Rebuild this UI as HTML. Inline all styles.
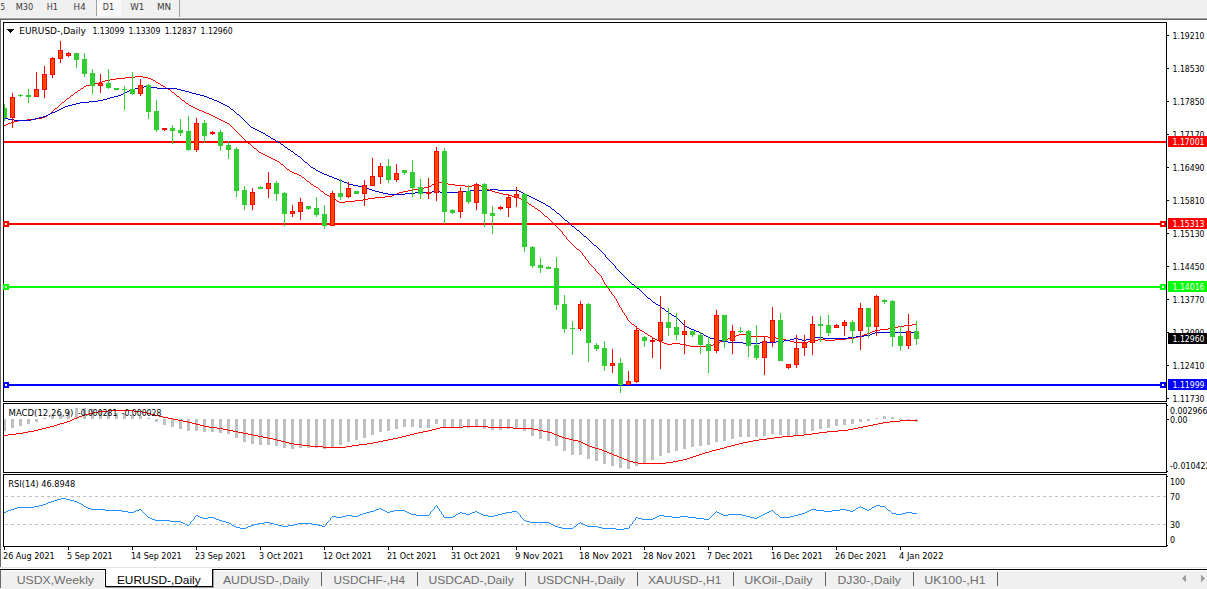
<!DOCTYPE html>
<html><head><meta charset="utf-8"><title>EURUSD-,Daily</title>
<style>
html,body{margin:0;padding:0;background:#fff;}
body{width:1207px;height:589px;position:relative;overflow:hidden;font-family:"Liberation Sans",Arial,sans-serif;}
#toolbar{position:absolute;left:0;top:0;width:1207px;height:18px;background:#f0f0f0;}
#toolbar .sep{position:absolute;top:0;width:1px;background:#a0a0a0;}
#toolbar .press{position:absolute;left:97px;top:0;width:24px;height:16px;background:#f8f8f8;}
#edge1{position:absolute;left:0;top:17px;width:1207px;height:1px;background:#f6f6f6;}
#edge2{position:absolute;left:0;top:18px;width:1207px;height:1px;background:#a0a0a0;}
#edge3{position:absolute;left:0;top:19px;width:1207px;height:1px;background:#696969;}
#ledge{position:absolute;left:0;top:19px;width:1px;height:548px;background:#696969;}
#tabs{position:absolute;left:0;top:567px;width:1207px;height:22px;}
#tabs .l1{position:absolute;left:0;top:0;width:1207px;height:1px;background:#e3e3e3;}
#tabs .l2{position:absolute;left:0;top:2px;width:1207px;height:1px;background:#000;}
#tabs .hl{position:absolute;left:0;top:3px;width:1207px;height:1px;background:#fff;}
#tabs .bg{position:absolute;left:0;top:4px;width:1207px;height:18px;background:#f0f0f0;}
#tabs .le{position:absolute;left:0;top:3px;width:1px;height:18px;background:#696969;}
#tabs .hlv{position:absolute;left:104px;top:3px;width:1px;height:19px;background:#fff;}
#tabs .act{position:absolute;left:105px;top:2px;width:106px;height:17px;background:#fff;border:1px solid #000;border-top:none;box-shadow:1px 1px 0 #a0a0a0;}
#tabs .acttop{position:absolute;left:106px;top:1px;width:106px;height:3px;background:#fff;}
#tabs .t1r{position:absolute;left:105px;top:2px;width:1px;height:18px;background:#000;}
#tabs i{position:absolute;top:5px;width:1px;height:14px;background:#606060;}
</style></head>
<body>
<div id="toolbar"><div class="press"></div><div class="sep" style="left:96px;height:16px"></div><div class="sep" style="left:179px;height:18px"></div></div>
<div id="edge1"></div><div id="edge2"></div><div id="edge3"></div><div id="ledge"></div>
<svg width="1207" height="589" viewBox="0 0 1207 589" style="position:absolute;left:0;top:0" font-family="DejaVu Sans Condensed, Liberation Sans, sans-serif">
<g shape-rendering="crispEdges">
<rect x="3" y="22" width="1164" height="1" fill="#000"/>
<rect x="3" y="401" width="1164" height="1" fill="#000"/>
<rect x="3" y="22" width="1" height="380" fill="#000"/>
<rect x="1166" y="22" width="1" height="380" fill="#000"/>
<rect x="3" y="403" width="1164" height="1" fill="#000"/>
<rect x="3" y="472" width="1164" height="1" fill="#000"/>
<rect x="3" y="403" width="1" height="70" fill="#000"/>
<rect x="1166" y="403" width="1" height="70" fill="#000"/>
<rect x="3" y="474" width="1164" height="1" fill="#000"/>
<rect x="3" y="546" width="1164" height="1" fill="#000"/>
<rect x="3" y="474" width="1" height="73" fill="#000"/>
<rect x="1166" y="474" width="1" height="73" fill="#000"/>
<rect x="4" y="141" width="1162" height="2" fill="#ff0000"/>
<rect x="4" y="223" width="1162" height="2" fill="#ff0000"/>
<rect x="4" y="286" width="1162" height="2" fill="#00ff00"/>
<rect x="4" y="384" width="1162" height="2" fill="#0000ff"/>
<path d="M135 76h8v1h-8zM125 77h10v1h-10zM143 77h5v1h-5zM116 78h9v1h-9zM148 78h3v1h-3zM110 79h6v1h-6zM151 79h2v1h-2zM105 80h5v1h-5zM153 80h2v1h-2zM102 81h3v1h-3zM155 81h1v1h-1zM99 82h3v1h-3zM156 82h2v1h-2zM95 83h4v1h-4zM158 83h2v1h-2zM90 84h5v1h-5zM160 84h1v1h-1zM86 85h4v1h-4zM161 85h2v1h-2zM84 86h2v1h-2zM163 86h2v1h-2zM83 87h1v1h-1zM165 87h1v1h-1zM81 88h2v1h-2zM166 88h2v1h-2zM80 89h1v1h-1zM168 89h2v1h-2zM78 90h2v1h-2zM170 90h1v1h-1zM77 91h1v1h-1zM171 91h1v1h-1zM75 92h2v1h-2zM172 92h2v1h-2zM74 93h1v1h-1zM174 93h1v1h-1zM73 94h1v1h-1zM175 94h1v1h-1zM71 95h2v1h-2zM176 95h1v1h-1zM70 96h1v1h-1zM177 96h2v1h-2zM69 97h1v1h-1zM179 97h1v1h-1zM67 98h2v1h-2zM180 98h1v1h-1zM66 99h1v1h-1zM181 99h1v1h-1zM65 100h1v1h-1zM182 100h2v1h-2zM64 101h1v1h-1zM184 101h1v1h-1zM62 102h2v1h-2zM185 102h1v1h-1zM61 103h1v1h-1zM186 103h2v1h-2zM60 104h1v1h-1zM188 104h1v1h-1zM59 105h1v1h-1zM189 105h2v1h-2zM58 106h1v1h-1zM191 106h2v1h-2zM57 107h1v1h-1zM193 107h2v1h-2zM55 108h2v1h-2zM195 108h2v1h-2zM54 109h1v1h-1zM197 109h2v1h-2zM53 110h1v1h-1zM199 110h3v1h-3zM52 111h1v1h-1zM202 111h2v1h-2zM51 112h1v1h-1zM204 112h2v1h-2zM50 113h1v1h-1zM206 113h3v1h-3zM48 114h2v1h-2zM209 114h2v1h-2zM47 115h1v1h-1zM211 115h2v1h-2zM45 116h2v1h-2zM213 116h2v1h-2zM42 117h3v1h-3zM215 117h2v1h-2zM36 118h6v1h-6zM217 118h2v1h-2zM27 119h9v1h-9zM219 119h2v1h-2zM18 120h9v1h-9zM221 120h2v1h-2zM14 121h4v1h-4zM223 121h2v1h-2zM11 122h3v1h-3zM225 122h2v1h-2zM8 123h3v1h-3zM227 123h2v1h-2zM6 124h2v1h-2zM229 124h1v1h-1zM4 125h2v1h-2zM230 125h1v1h-1zM231 126h1v1h-1zM232 127h1v1h-1zM233 128h1v1h-1zM234 129h1v1h-1zM235 130h1v1h-1zM236 131h1v1h-1zM237 132h1v1h-1zM238 133h1v1h-1zM239 134h1v1h-1zM240 135h1v1h-1zM241 136h1v1h-1zM242 137h1v1h-1zM243 138h1v1h-1zM244 139h1v1h-1zM245 140h1v1h-1zM246 141h1v1h-1zM247 142h1v1h-1zM248 143h2v1h-2zM250 144h1v1h-1zM251 145h1v1h-1zM252 146h1v1h-1zM253 147h1v1h-1zM254 148h2v1h-2zM256 149h1v1h-1zM257 150h1v1h-1zM258 151h1v1h-1zM259 152h2v1h-2zM261 153h2v1h-2zM263 154h2v1h-2zM265 155h2v1h-2zM267 156h2v1h-2zM269 157h2v1h-2zM271 158h2v1h-2zM273 159h2v1h-2zM275 160h2v1h-2zM277 161h2v1h-2zM279 162h1v1h-1zM280 163h1v1h-1zM281 164h2v1h-2zM283 165h1v1h-1zM284 166h1v1h-1zM285 167h1v1h-1zM286 168h1v1h-1zM287 169h2v1h-2zM289 170h1v1h-1zM290 171h2v1h-2zM292 172h2v1h-2zM294 173h3v1h-3zM297 174h2v1h-2zM299 175h2v1h-2zM301 176h1v1h-1zM302 177h2v1h-2zM304 178h1v1h-1zM305 179h1v1h-1zM306 180h1v1h-1zM307 181h2v1h-2zM309 182h1v1h-1zM436 182h8v1h-8zM310 183h1v1h-1zM434 183h2v1h-2zM444 183h4v1h-4zM311 184h2v1h-2zM432 184h2v1h-2zM448 184h7v1h-7zM476 184h3v1h-3zM313 185h1v1h-1zM431 185h1v1h-1zM455 185h10v1h-10zM472 185h4v1h-4zM479 185h2v1h-2zM314 186h2v1h-2zM429 186h2v1h-2zM465 186h7v1h-7zM481 186h2v1h-2zM316 187h2v1h-2zM424 187h5v1h-5zM483 187h2v1h-2zM318 188h1v1h-1zM418 188h6v1h-6zM485 188h2v1h-2zM319 189h1v1h-1zM413 189h5v1h-5zM487 189h2v1h-2zM320 190h1v1h-1zM408 190h5v1h-5zM489 190h3v1h-3zM321 191h2v1h-2zM403 191h5v1h-5zM492 191h3v1h-3zM323 192h1v1h-1zM399 192h4v1h-4zM495 192h4v1h-4zM324 193h1v1h-1zM397 193h2v1h-2zM499 193h4v1h-4zM325 194h2v1h-2zM394 194h3v1h-3zM503 194h5v1h-5zM327 195h2v1h-2zM392 195h2v1h-2zM508 195h4v1h-4zM329 196h2v1h-2zM385 196h7v1h-7zM512 196h3v1h-3zM331 197h2v1h-2zM375 197h10v1h-10zM515 197h4v1h-4zM333 198h1v1h-1zM368 198h7v1h-7zM519 198h2v1h-2zM334 199h2v1h-2zM363 199h5v1h-5zM521 199h2v1h-2zM336 200h1v1h-1zM355 200h8v1h-8zM523 200h1v1h-1zM337 201h2v1h-2zM345 201h10v1h-10zM524 201h2v1h-2zM339 202h6v1h-6zM526 202h2v1h-2zM528 203h1v1h-1zM529 204h2v1h-2zM531 205h1v1h-1zM532 206h2v1h-2zM534 207h1v1h-1zM535 208h2v1h-2zM537 209h1v1h-1zM538 210h2v1h-2zM540 211h1v1h-1zM541 212h1v1h-1zM542 213h1v1h-1zM543 214h1v1h-1zM544 215h1v1h-1zM545 216h2v1h-2zM547 217h1v1h-1zM548 218h1v1h-1zM549 219h1v1h-1zM550 220h1v1h-1zM551 221h1v1h-1zM552 222h1v1h-1zM553 223h1v1h-1zM554 224h1v1h-1zM555 225h1v1h-1zM556 226h1v1h-1zM557 227h1v1h-1zM558 228h1v1h-1zM559 229h1v1h-1zM560 230h1v1h-1zM561 231h1v1h-1zM562 232h1v1h-1zM562 233h1v1h-1zM563 234h1v1h-1zM564 235h1v1h-1zM565 236h1v1h-1zM566 237h1v1h-1zM566 238h1v1h-1zM567 239h1v1h-1zM568 240h1v1h-1zM569 241h1v1h-1zM570 242h1v1h-1zM571 243h1v1h-1zM572 244h1v1h-1zM573 245h1v1h-1zM574 246h1v1h-1zM575 247h1v1h-1zM576 248h1v1h-1zM577 249h2v1h-2zM579 250h1v1h-1zM580 251h1v1h-1zM581 252h1v1h-1zM582 253h1v1h-1zM582 254h1v1h-1zM583 255h1v1h-1zM584 256h1v1h-1zM585 257h1v1h-1zM585 258h1v1h-1zM586 259h1v1h-1zM587 260h1v1h-1zM588 261h1v1h-1zM588 262h1v1h-1zM589 263h1v1h-1zM590 264h1v1h-1zM591 265h1v1h-1zM592 266h1v1h-1zM593 267h1v1h-1zM594 268h1v1h-1zM595 269h1v1h-1zM595 270h1v1h-1zM596 271h1v1h-1zM597 272h1v1h-1zM598 273h1v1h-1zM599 274h1v1h-1zM600 275h1v1h-1zM601 276h1v1h-1zM601 277h1v1h-1zM602 278h1v1h-1zM602 279h1v1h-1zM603 280h1v1h-1zM603 281h1v1h-1zM604 282h1v1h-1zM604 283h1v1h-1zM605 284h1v1h-1zM606 285h1v1h-1zM606 286h1v1h-1zM607 287h1v1h-1zM608 288h1v1h-1zM609 289h1v1h-1zM609 290h1v1h-1zM610 291h1v1h-1zM611 292h1v1h-1zM611 293h1v1h-1zM612 294h1v1h-1zM613 295h1v1h-1zM614 296h1v1h-1zM614 297h1v1h-1zM615 298h1v1h-1zM616 299h1v1h-1zM616 300h1v1h-1zM617 301h1v1h-1zM617 302h1v1h-1zM618 303h1v1h-1zM618 304h1v1h-1zM619 305h1v1h-1zM619 306h1v1h-1zM620 307h1v1h-1zM621 308h1v1h-1zM621 309h1v1h-1zM622 310h1v1h-1zM622 311h1v1h-1zM623 312h1v1h-1zM624 313h1v1h-1zM624 314h1v1h-1zM625 315h1v1h-1zM626 316h1v1h-1zM626 317h1v1h-1zM627 318h1v1h-1zM627 319h1v1h-1zM628 320h1v1h-1zM629 321h1v1h-1zM630 322h1v1h-1zM631 323h1v1h-1zM632 324h2v1h-2zM912 324h5v1h-5zM634 325h1v1h-1zM904 325h8v1h-8zM635 326h1v1h-1zM898 326h6v1h-6zM636 327h1v1h-1zM894 327h4v1h-4zM637 328h2v1h-2zM888 328h6v1h-6zM639 329h1v1h-1zM880 329h8v1h-8zM640 330h2v1h-2zM875 330h5v1h-5zM642 331h2v1h-2zM872 331h3v1h-3zM644 332h1v1h-1zM870 332h2v1h-2zM645 333h2v1h-2zM867 333h3v1h-3zM647 334h1v1h-1zM739 334h8v1h-8zM864 334h3v1h-3zM648 335h2v1h-2zM736 335h3v1h-3zM747 335h4v1h-4zM862 335h2v1h-2zM650 336h2v1h-2zM734 336h2v1h-2zM751 336h17v1h-17zM858 336h4v1h-4zM652 337h1v1h-1zM731 337h3v1h-3zM768 337h8v1h-8zM854 337h4v1h-4zM653 338h2v1h-2zM728 338h3v1h-3zM776 338h6v1h-6zM846 338h8v1h-8zM655 339h2v1h-2zM726 339h2v1h-2zM782 339h4v1h-4zM818 339h7v1h-7zM835 339h11v1h-11zM657 340h2v1h-2zM723 340h3v1h-3zM786 340h4v1h-4zM814 340h4v1h-4zM825 340h10v1h-10zM659 341h3v1h-3zM720 341h3v1h-3zM790 341h4v1h-4zM808 341h6v1h-6zM662 342h2v1h-2zM718 342h2v1h-2zM794 342h14v1h-14zM664 343h3v1h-3zM672 343h8v1h-8zM715 343h3v1h-3zM667 344h5v1h-5zM680 344h6v1h-6zM713 344h2v1h-2zM686 345h4v1h-4zM711 345h2v1h-2zM690 346h21v1h-21z" fill="#ff0000"/>
<path d="M144 86h6v1h-6zM139 87h5v1h-5zM150 87h7v1h-7zM135 88h4v1h-4zM157 88h20v1h-20zM131 89h4v1h-4zM177 89h4v1h-4zM129 90h2v1h-2zM181 90h4v1h-4zM127 91h2v1h-2zM185 91h4v1h-4zM125 92h2v1h-2zM189 92h3v1h-3zM123 93h2v1h-2zM192 93h4v1h-4zM121 94h2v1h-2zM196 94h4v1h-4zM118 95h3v1h-3zM200 95h4v1h-4zM114 96h4v1h-4zM204 96h3v1h-3zM110 97h4v1h-4zM207 97h2v1h-2zM107 98h3v1h-3zM209 98h3v1h-3zM103 99h4v1h-4zM212 99h2v1h-2zM98 100h5v1h-5zM214 100h3v1h-3zM89 101h9v1h-9zM217 101h2v1h-2zM80 102h9v1h-9zM219 102h2v1h-2zM76 103h4v1h-4zM221 103h2v1h-2zM72 104h4v1h-4zM223 104h2v1h-2zM68 105h4v1h-4zM225 105h2v1h-2zM65 106h3v1h-3zM227 106h2v1h-2zM63 107h2v1h-2zM229 107h1v1h-1zM61 108h2v1h-2zM230 108h1v1h-1zM59 109h2v1h-2zM231 109h2v1h-2zM57 110h2v1h-2zM233 110h1v1h-1zM55 111h2v1h-2zM234 111h1v1h-1zM52 112h3v1h-3zM235 112h1v1h-1zM50 113h2v1h-2zM236 113h1v1h-1zM48 114h2v1h-2zM237 114h2v1h-2zM46 115h2v1h-2zM239 115h1v1h-1zM43 116h3v1h-3zM240 116h1v1h-1zM39 117h4v1h-4zM241 117h1v1h-1zM4 118h4v1h-4zM35 118h4v1h-4zM242 118h1v1h-1zM8 119h6v1h-6zM31 119h4v1h-4zM243 119h1v1h-1zM14 120h17v1h-17zM244 120h1v1h-1zM245 121h1v1h-1zM246 122h1v1h-1zM247 123h1v1h-1zM248 124h1v1h-1zM249 125h1v1h-1zM250 126h1v1h-1zM251 127h2v1h-2zM253 128h2v1h-2zM255 129h2v1h-2zM257 130h2v1h-2zM259 131h2v1h-2zM261 132h2v1h-2zM263 133h2v1h-2zM265 134h1v1h-1zM266 135h2v1h-2zM268 136h2v1h-2zM270 137h1v1h-1zM271 138h2v1h-2zM273 139h2v1h-2zM275 140h1v1h-1zM276 141h2v1h-2zM278 142h2v1h-2zM280 143h1v1h-1zM281 144h2v1h-2zM283 145h1v1h-1zM284 146h1v1h-1zM285 147h2v1h-2zM287 148h1v1h-1zM288 149h2v1h-2zM290 150h1v1h-1zM291 151h2v1h-2zM293 152h1v1h-1zM294 153h1v1h-1zM295 154h2v1h-2zM297 155h1v1h-1zM298 156h2v1h-2zM300 157h1v1h-1zM301 158h1v1h-1zM302 159h1v1h-1zM303 160h1v1h-1zM304 161h1v1h-1zM305 162h2v1h-2zM307 163h1v1h-1zM308 164h1v1h-1zM309 165h1v1h-1zM310 166h1v1h-1zM311 167h2v1h-2zM313 168h2v1h-2zM315 169h1v1h-1zM316 170h2v1h-2zM318 171h2v1h-2zM320 172h2v1h-2zM322 173h2v1h-2zM324 174h3v1h-3zM327 175h2v1h-2zM329 176h3v1h-3zM332 177h2v1h-2zM334 178h3v1h-3zM337 179h2v1h-2zM339 180h3v1h-3zM342 181h2v1h-2zM344 182h3v1h-3zM347 183h2v1h-2zM349 184h4v1h-4zM353 185h5v1h-5zM358 186h4v1h-4zM362 187h3v1h-3zM365 188h4v1h-4zM369 189h3v1h-3zM490 189h8v1h-8zM372 190h3v1h-3zM470 190h20v1h-20zM498 190h21v1h-21zM375 191h4v1h-4zM432 191h8v1h-8zM460 191h10v1h-10zM519 191h2v1h-2zM379 192h4v1h-4zM415 192h17v1h-17zM440 192h20v1h-20zM521 192h2v1h-2zM383 193h5v1h-5zM405 193h10v1h-10zM523 193h2v1h-2zM388 194h17v1h-17zM525 194h2v1h-2zM527 195h2v1h-2zM529 196h2v1h-2zM531 197h2v1h-2zM533 198h2v1h-2zM535 199h2v1h-2zM537 200h2v1h-2zM539 201h2v1h-2zM541 202h2v1h-2zM543 203h2v1h-2zM545 204h1v1h-1zM546 205h2v1h-2zM548 206h2v1h-2zM550 207h1v1h-1zM551 208h1v1h-1zM552 209h2v1h-2zM554 210h1v1h-1zM555 211h1v1h-1zM556 212h1v1h-1zM557 213h2v1h-2zM559 214h1v1h-1zM560 215h1v1h-1zM561 216h1v1h-1zM562 217h1v1h-1zM563 218h1v1h-1zM564 219h1v1h-1zM565 220h2v1h-2zM567 221h1v1h-1zM568 222h1v1h-1zM569 223h1v1h-1zM570 224h1v1h-1zM571 225h1v1h-1zM572 226h2v1h-2zM574 227h1v1h-1zM575 228h1v1h-1zM576 229h1v1h-1zM577 230h2v1h-2zM579 231h1v1h-1zM580 232h1v1h-1zM581 233h1v1h-1zM582 234h1v1h-1zM583 235h1v1h-1zM584 236h2v1h-2zM586 237h1v1h-1zM587 238h1v1h-1zM588 239h1v1h-1zM589 240h1v1h-1zM590 241h1v1h-1zM591 242h1v1h-1zM592 243h1v1h-1zM593 244h1v1h-1zM594 245h2v1h-2zM596 246h1v1h-1zM597 247h1v1h-1zM598 248h1v1h-1zM599 249h1v1h-1zM600 250h1v1h-1zM601 251h1v1h-1zM602 252h1v1h-1zM603 253h1v1h-1zM604 254h1v1h-1zM605 255h1v1h-1zM605 256h1v1h-1zM606 257h1v1h-1zM607 258h1v1h-1zM608 259h1v1h-1zM609 260h1v1h-1zM610 261h1v1h-1zM611 262h1v1h-1zM612 263h1v1h-1zM613 264h1v1h-1zM614 265h1v1h-1zM615 266h1v1h-1zM615 267h1v1h-1zM616 268h1v1h-1zM617 269h1v1h-1zM618 270h1v1h-1zM619 271h1v1h-1zM620 272h1v1h-1zM621 273h1v1h-1zM622 274h1v1h-1zM623 275h1v1h-1zM624 276h1v1h-1zM625 277h1v1h-1zM626 278h1v1h-1zM627 279h1v1h-1zM628 280h1v1h-1zM629 281h1v1h-1zM630 282h1v1h-1zM631 283h1v1h-1zM632 284h2v1h-2zM634 285h1v1h-1zM635 286h1v1h-1zM636 287h1v1h-1zM637 288h2v1h-2zM639 289h1v1h-1zM640 290h1v1h-1zM641 291h1v1h-1zM642 292h1v1h-1zM643 293h1v1h-1zM644 294h1v1h-1zM645 295h1v1h-1zM646 296h1v1h-1zM647 297h1v1h-1zM648 298h2v1h-2zM650 299h1v1h-1zM651 300h1v1h-1zM652 301h1v1h-1zM653 302h2v1h-2zM655 303h1v1h-1zM656 304h2v1h-2zM658 305h2v1h-2zM660 306h1v1h-1zM661 307h1v1h-1zM662 308h2v1h-2zM664 309h1v1h-1zM665 310h1v1h-1zM666 311h2v1h-2zM668 312h1v1h-1zM669 313h2v1h-2zM671 314h1v1h-1zM672 315h2v1h-2zM674 316h2v1h-2zM676 317h1v1h-1zM677 318h1v1h-1zM678 319h1v1h-1zM679 320h1v1h-1zM680 321h1v1h-1zM681 322h1v1h-1zM682 323h1v1h-1zM683 324h1v1h-1zM684 325h1v1h-1zM685 326h2v1h-2zM687 327h2v1h-2zM689 328h2v1h-2zM691 329h3v1h-3zM694 330h2v1h-2zM696 331h3v1h-3zM699 332h2v1h-2zM875 332h42v1h-42zM701 333h2v1h-2zM872 333h3v1h-3zM703 334h1v1h-1zM870 334h2v1h-2zM704 335h2v1h-2zM864 335h6v1h-6zM706 336h2v1h-2zM856 336h8v1h-8zM708 337h2v1h-2zM815 337h8v1h-8zM848 337h8v1h-8zM710 338h4v1h-4zM794 338h4v1h-4zM810 338h5v1h-5zM823 338h25v1h-25zM714 339h4v1h-4zM790 339h4v1h-4zM798 339h4v1h-4zM806 339h4v1h-4zM718 340h4v1h-4zM784 340h6v1h-6zM802 340h4v1h-4zM722 341h6v1h-6zM776 341h8v1h-8zM728 342h15v1h-15zM760 342h16v1h-16zM743 343h17v1h-17z" fill="#0000cd"/>
<rect x="4" y="104" width="1" height="17" fill="#32cd32"/>
<rect x="4" y="108" width="3" height="10" fill="#32cd32"/>
<rect x="12" y="93" width="1" height="35" fill="#ff0000"/>
<rect x="10" y="97" width="5" height="21" fill="#ff0000"/>
<rect x="11" y="98" width="3" height="19" fill="#ff4500"/>
<rect x="20" y="94" width="1" height="3" fill="#32cd32"/>
<rect x="18" y="95" width="5" height="1" fill="#32cd32"/>
<rect x="28" y="89" width="1" height="14" fill="#32cd32"/>
<rect x="26" y="95" width="5" height="2" fill="#32cd32"/>
<rect x="36" y="72" width="1" height="25" fill="#ff0000"/>
<rect x="34" y="89" width="5" height="8" fill="#ff0000"/>
<rect x="35" y="90" width="3" height="6" fill="#ff4500"/>
<rect x="44" y="66" width="1" height="32" fill="#ff0000"/>
<rect x="42" y="74" width="5" height="16" fill="#ff0000"/>
<rect x="43" y="75" width="3" height="14" fill="#ff4500"/>
<rect x="52" y="57" width="1" height="21" fill="#ff0000"/>
<rect x="50" y="58" width="5" height="17" fill="#ff0000"/>
<rect x="51" y="59" width="3" height="15" fill="#ff4500"/>
<rect x="60" y="41" width="1" height="22" fill="#ff0000"/>
<rect x="58" y="50" width="5" height="9" fill="#ff0000"/>
<rect x="59" y="51" width="3" height="7" fill="#ff4500"/>
<rect x="68" y="52" width="1" height="5" fill="#ff0000"/>
<rect x="66" y="53" width="5" height="3" fill="#ff0000"/>
<rect x="67" y="54" width="3" height="1" fill="#ff4500"/>
<rect x="76" y="53" width="1" height="15" fill="#32cd32"/>
<rect x="74" y="53" width="5" height="7" fill="#32cd32"/>
<rect x="84" y="53" width="1" height="24" fill="#32cd32"/>
<rect x="82" y="59" width="5" height="15" fill="#32cd32"/>
<rect x="92" y="69" width="1" height="25" fill="#32cd32"/>
<rect x="90" y="73" width="5" height="13" fill="#32cd32"/>
<rect x="100" y="74" width="1" height="19" fill="#ff0000"/>
<rect x="98" y="83" width="5" height="3" fill="#ff0000"/>
<rect x="99" y="84" width="3" height="1" fill="#ff4500"/>
<rect x="108" y="69" width="1" height="20" fill="#32cd32"/>
<rect x="106" y="83" width="5" height="5" fill="#32cd32"/>
<rect x="116" y="88" width="1" height="2" fill="#32cd32"/>
<rect x="114" y="88" width="5" height="2" fill="#32cd32"/>
<rect x="124" y="86" width="1" height="24" fill="#32cd32"/>
<rect x="122" y="89" width="5" height="1" fill="#32cd32"/>
<rect x="132" y="72" width="1" height="23" fill="#32cd32"/>
<rect x="130" y="89" width="5" height="5" fill="#32cd32"/>
<rect x="140" y="79" width="1" height="17" fill="#ff0000"/>
<rect x="138" y="85" width="5" height="9" fill="#ff0000"/>
<rect x="139" y="86" width="3" height="7" fill="#ff4500"/>
<rect x="148" y="84" width="1" height="35" fill="#32cd32"/>
<rect x="146" y="85" width="5" height="27" fill="#32cd32"/>
<rect x="156" y="100" width="1" height="32" fill="#32cd32"/>
<rect x="154" y="111" width="5" height="19" fill="#32cd32"/>
<rect x="164" y="128" width="1" height="3" fill="#ff0000"/>
<rect x="162" y="128" width="5" height="2" fill="#ff0000"/>
<rect x="172" y="125" width="1" height="19" fill="#32cd32"/>
<rect x="170" y="128" width="5" height="3" fill="#32cd32"/>
<rect x="180" y="119" width="1" height="17" fill="#32cd32"/>
<rect x="178" y="130" width="5" height="3" fill="#32cd32"/>
<rect x="188" y="116" width="1" height="35" fill="#32cd32"/>
<rect x="186" y="131" width="5" height="19" fill="#32cd32"/>
<rect x="196" y="118" width="1" height="34" fill="#ff0000"/>
<rect x="194" y="123" width="5" height="27" fill="#ff0000"/>
<rect x="195" y="124" width="3" height="25" fill="#ff4500"/>
<rect x="204" y="120" width="1" height="23" fill="#32cd32"/>
<rect x="202" y="123" width="5" height="13" fill="#32cd32"/>
<rect x="212" y="131" width="1" height="4" fill="#ff0000"/>
<rect x="210" y="132" width="5" height="2" fill="#ff0000"/>
<rect x="220" y="130" width="1" height="21" fill="#32cd32"/>
<rect x="218" y="132" width="5" height="14" fill="#32cd32"/>
<rect x="228" y="141" width="1" height="18" fill="#32cd32"/>
<rect x="226" y="145" width="5" height="5" fill="#32cd32"/>
<rect x="236" y="147" width="1" height="50" fill="#32cd32"/>
<rect x="234" y="149" width="5" height="42" fill="#32cd32"/>
<rect x="244" y="186" width="1" height="24" fill="#32cd32"/>
<rect x="242" y="190" width="5" height="15" fill="#32cd32"/>
<rect x="252" y="188" width="1" height="22" fill="#ff0000"/>
<rect x="250" y="192" width="5" height="13" fill="#ff0000"/>
<rect x="251" y="193" width="3" height="11" fill="#ff4500"/>
<rect x="260" y="186" width="1" height="3" fill="#32cd32"/>
<rect x="258" y="187" width="5" height="2" fill="#32cd32"/>
<rect x="268" y="172" width="1" height="26" fill="#ff0000"/>
<rect x="266" y="183" width="5" height="6" fill="#ff0000"/>
<rect x="267" y="184" width="3" height="4" fill="#ff4500"/>
<rect x="276" y="181" width="1" height="20" fill="#32cd32"/>
<rect x="274" y="183" width="5" height="11" fill="#32cd32"/>
<rect x="284" y="192" width="1" height="34" fill="#32cd32"/>
<rect x="282" y="193" width="5" height="21" fill="#32cd32"/>
<rect x="292" y="205" width="1" height="12" fill="#ff0000"/>
<rect x="290" y="211" width="5" height="3" fill="#ff0000"/>
<rect x="291" y="212" width="3" height="1" fill="#ff4500"/>
<rect x="300" y="198" width="1" height="22" fill="#ff0000"/>
<rect x="298" y="202" width="5" height="10" fill="#ff0000"/>
<rect x="299" y="203" width="3" height="8" fill="#ff4500"/>
<rect x="308" y="206" width="1" height="4" fill="#32cd32"/>
<rect x="306" y="206" width="5" height="3" fill="#32cd32"/>
<rect x="316" y="197" width="1" height="20" fill="#32cd32"/>
<rect x="314" y="208" width="5" height="7" fill="#32cd32"/>
<rect x="324" y="205" width="1" height="24" fill="#32cd32"/>
<rect x="322" y="214" width="5" height="12" fill="#32cd32"/>
<rect x="332" y="191" width="1" height="35" fill="#ff0000"/>
<rect x="330" y="193" width="5" height="33" fill="#ff0000"/>
<rect x="331" y="194" width="3" height="31" fill="#ff4500"/>
<rect x="340" y="179" width="1" height="21" fill="#32cd32"/>
<rect x="338" y="193" width="5" height="4" fill="#32cd32"/>
<rect x="348" y="182" width="1" height="16" fill="#ff0000"/>
<rect x="346" y="188" width="5" height="9" fill="#ff0000"/>
<rect x="347" y="189" width="3" height="7" fill="#ff4500"/>
<rect x="356" y="191" width="1" height="3" fill="#32cd32"/>
<rect x="354" y="191" width="5" height="3" fill="#32cd32"/>
<rect x="364" y="180" width="1" height="26" fill="#ff0000"/>
<rect x="362" y="185" width="5" height="9" fill="#ff0000"/>
<rect x="363" y="186" width="3" height="7" fill="#ff4500"/>
<rect x="372" y="158" width="1" height="28" fill="#ff0000"/>
<rect x="370" y="176" width="5" height="10" fill="#ff0000"/>
<rect x="371" y="177" width="3" height="8" fill="#ff4500"/>
<rect x="380" y="163" width="1" height="21" fill="#ff0000"/>
<rect x="378" y="166" width="5" height="11" fill="#ff0000"/>
<rect x="379" y="167" width="3" height="9" fill="#ff4500"/>
<rect x="388" y="159" width="1" height="24" fill="#32cd32"/>
<rect x="386" y="166" width="5" height="14" fill="#32cd32"/>
<rect x="396" y="164" width="1" height="18" fill="#ff0000"/>
<rect x="394" y="173" width="5" height="7" fill="#ff0000"/>
<rect x="395" y="174" width="3" height="5" fill="#ff4500"/>
<rect x="404" y="170" width="1" height="5" fill="#32cd32"/>
<rect x="402" y="170" width="5" height="3" fill="#32cd32"/>
<rect x="412" y="160" width="1" height="37" fill="#32cd32"/>
<rect x="410" y="172" width="5" height="16" fill="#32cd32"/>
<rect x="420" y="179" width="1" height="20" fill="#32cd32"/>
<rect x="418" y="187" width="5" height="7" fill="#32cd32"/>
<rect x="428" y="178" width="1" height="21" fill="#ff0000"/>
<rect x="426" y="192" width="5" height="2" fill="#ff0000"/>
<rect x="436" y="147" width="1" height="54" fill="#ff0000"/>
<rect x="434" y="151" width="5" height="42" fill="#ff0000"/>
<rect x="435" y="152" width="3" height="40" fill="#ff4500"/>
<rect x="444" y="148" width="1" height="76" fill="#32cd32"/>
<rect x="442" y="151" width="5" height="61" fill="#32cd32"/>
<rect x="452" y="209" width="1" height="5" fill="#32cd32"/>
<rect x="450" y="210" width="5" height="3" fill="#32cd32"/>
<rect x="460" y="187" width="1" height="31" fill="#ff0000"/>
<rect x="458" y="191" width="5" height="21" fill="#ff0000"/>
<rect x="459" y="192" width="3" height="19" fill="#ff4500"/>
<rect x="468" y="185" width="1" height="19" fill="#32cd32"/>
<rect x="466" y="191" width="5" height="11" fill="#32cd32"/>
<rect x="476" y="183" width="1" height="27" fill="#ff0000"/>
<rect x="474" y="184" width="5" height="19" fill="#ff0000"/>
<rect x="475" y="185" width="3" height="17" fill="#ff4500"/>
<rect x="484" y="183" width="1" height="44" fill="#32cd32"/>
<rect x="482" y="184" width="5" height="30" fill="#32cd32"/>
<rect x="492" y="206" width="1" height="28" fill="#32cd32"/>
<rect x="490" y="213" width="5" height="3" fill="#32cd32"/>
<rect x="500" y="206" width="1" height="4" fill="#ff0000"/>
<rect x="498" y="207" width="5" height="2" fill="#ff0000"/>
<rect x="508" y="194" width="1" height="23" fill="#ff0000"/>
<rect x="506" y="197" width="5" height="11" fill="#ff0000"/>
<rect x="507" y="198" width="3" height="9" fill="#ff4500"/>
<rect x="516" y="187" width="1" height="20" fill="#ff0000"/>
<rect x="514" y="194" width="5" height="4" fill="#ff0000"/>
<rect x="515" y="195" width="3" height="2" fill="#ff4500"/>
<rect x="524" y="193" width="1" height="59" fill="#32cd32"/>
<rect x="522" y="194" width="5" height="53" fill="#32cd32"/>
<rect x="532" y="246" width="1" height="22" fill="#32cd32"/>
<rect x="530" y="247" width="5" height="19" fill="#32cd32"/>
<rect x="540" y="258" width="1" height="15" fill="#32cd32"/>
<rect x="538" y="265" width="5" height="3" fill="#32cd32"/>
<rect x="548" y="266" width="1" height="3" fill="#32cd32"/>
<rect x="546" y="267" width="5" height="2" fill="#32cd32"/>
<rect x="556" y="257" width="1" height="53" fill="#32cd32"/>
<rect x="554" y="268" width="5" height="37" fill="#32cd32"/>
<rect x="564" y="295" width="1" height="38" fill="#32cd32"/>
<rect x="562" y="304" width="5" height="25" fill="#32cd32"/>
<rect x="572" y="321" width="1" height="34" fill="#32cd32"/>
<rect x="570" y="328" width="5" height="1" fill="#32cd32"/>
<rect x="580" y="301" width="1" height="30" fill="#ff0000"/>
<rect x="578" y="304" width="5" height="25" fill="#ff0000"/>
<rect x="579" y="305" width="3" height="23" fill="#ff4500"/>
<rect x="588" y="303" width="1" height="59" fill="#32cd32"/>
<rect x="586" y="304" width="5" height="39" fill="#32cd32"/>
<rect x="596" y="343" width="1" height="8" fill="#32cd32"/>
<rect x="594" y="345" width="5" height="4" fill="#32cd32"/>
<rect x="604" y="341" width="1" height="30" fill="#32cd32"/>
<rect x="602" y="348" width="5" height="18" fill="#32cd32"/>
<rect x="612" y="349" width="1" height="24" fill="#ff0000"/>
<rect x="610" y="363" width="5" height="3" fill="#ff0000"/>
<rect x="611" y="364" width="3" height="1" fill="#ff4500"/>
<rect x="620" y="358" width="1" height="35" fill="#32cd32"/>
<rect x="618" y="363" width="5" height="22" fill="#32cd32"/>
<rect x="628" y="371" width="1" height="14" fill="#ff0000"/>
<rect x="626" y="381" width="5" height="4" fill="#ff0000"/>
<rect x="627" y="382" width="3" height="2" fill="#ff4500"/>
<rect x="636" y="326" width="1" height="57" fill="#ff0000"/>
<rect x="634" y="330" width="5" height="52" fill="#ff0000"/>
<rect x="635" y="331" width="3" height="50" fill="#ff4500"/>
<rect x="644" y="336" width="1" height="11" fill="#32cd32"/>
<rect x="642" y="337" width="5" height="4" fill="#32cd32"/>
<rect x="652" y="337" width="1" height="21" fill="#ff0000"/>
<rect x="650" y="340" width="5" height="2" fill="#ff0000"/>
<rect x="660" y="296" width="1" height="73" fill="#ff0000"/>
<rect x="658" y="322" width="5" height="19" fill="#ff0000"/>
<rect x="659" y="323" width="3" height="17" fill="#ff4500"/>
<rect x="668" y="308" width="1" height="28" fill="#32cd32"/>
<rect x="666" y="322" width="5" height="6" fill="#32cd32"/>
<rect x="676" y="313" width="1" height="27" fill="#32cd32"/>
<rect x="674" y="327" width="5" height="8" fill="#32cd32"/>
<rect x="684" y="320" width="1" height="34" fill="#ff0000"/>
<rect x="682" y="331" width="5" height="4" fill="#ff0000"/>
<rect x="683" y="332" width="3" height="2" fill="#ff4500"/>
<rect x="692" y="331" width="1" height="6" fill="#32cd32"/>
<rect x="690" y="331" width="5" height="4" fill="#32cd32"/>
<rect x="700" y="332" width="1" height="22" fill="#32cd32"/>
<rect x="698" y="335" width="5" height="10" fill="#32cd32"/>
<rect x="708" y="337" width="1" height="36" fill="#32cd32"/>
<rect x="706" y="344" width="5" height="7" fill="#32cd32"/>
<rect x="716" y="310" width="1" height="43" fill="#ff0000"/>
<rect x="714" y="315" width="5" height="36" fill="#ff0000"/>
<rect x="715" y="316" width="3" height="34" fill="#ff4500"/>
<rect x="724" y="315" width="1" height="33" fill="#32cd32"/>
<rect x="722" y="315" width="5" height="26" fill="#32cd32"/>
<rect x="732" y="325" width="1" height="29" fill="#ff0000"/>
<rect x="730" y="331" width="5" height="10" fill="#ff0000"/>
<rect x="731" y="332" width="3" height="8" fill="#ff4500"/>
<rect x="740" y="327" width="1" height="6" fill="#32cd32"/>
<rect x="738" y="331" width="5" height="1" fill="#32cd32"/>
<rect x="748" y="330" width="1" height="27" fill="#32cd32"/>
<rect x="746" y="331" width="5" height="15" fill="#32cd32"/>
<rect x="756" y="325" width="1" height="35" fill="#32cd32"/>
<rect x="754" y="345" width="5" height="13" fill="#32cd32"/>
<rect x="764" y="336" width="1" height="39" fill="#ff0000"/>
<rect x="762" y="341" width="5" height="17" fill="#ff0000"/>
<rect x="763" y="342" width="3" height="15" fill="#ff4500"/>
<rect x="772" y="307" width="1" height="40" fill="#ff0000"/>
<rect x="770" y="320" width="5" height="22" fill="#ff0000"/>
<rect x="771" y="321" width="3" height="20" fill="#ff4500"/>
<rect x="780" y="313" width="1" height="48" fill="#32cd32"/>
<rect x="778" y="320" width="5" height="41" fill="#32cd32"/>
<rect x="788" y="364" width="1" height="5" fill="#ff0000"/>
<rect x="786" y="364" width="5" height="4" fill="#ff0000"/>
<rect x="787" y="365" width="3" height="2" fill="#ff4500"/>
<rect x="796" y="335" width="1" height="33" fill="#ff0000"/>
<rect x="794" y="348" width="5" height="17" fill="#ff0000"/>
<rect x="795" y="349" width="3" height="15" fill="#ff4500"/>
<rect x="804" y="335" width="1" height="21" fill="#ff0000"/>
<rect x="802" y="343" width="5" height="5" fill="#ff0000"/>
<rect x="803" y="344" width="3" height="3" fill="#ff4500"/>
<rect x="812" y="316" width="1" height="39" fill="#ff0000"/>
<rect x="810" y="324" width="5" height="19" fill="#ff0000"/>
<rect x="811" y="325" width="3" height="17" fill="#ff4500"/>
<rect x="820" y="316" width="1" height="26" fill="#32cd32"/>
<rect x="818" y="324" width="5" height="2" fill="#32cd32"/>
<rect x="828" y="315" width="1" height="21" fill="#32cd32"/>
<rect x="826" y="325" width="5" height="8" fill="#32cd32"/>
<rect x="836" y="324" width="1" height="4" fill="#ff0000"/>
<rect x="834" y="325" width="5" height="3" fill="#ff0000"/>
<rect x="835" y="326" width="3" height="1" fill="#ff4500"/>
<rect x="844" y="320" width="1" height="16" fill="#ff0000"/>
<rect x="842" y="322" width="5" height="4" fill="#ff0000"/>
<rect x="843" y="323" width="3" height="2" fill="#ff4500"/>
<rect x="852" y="320" width="1" height="23" fill="#32cd32"/>
<rect x="850" y="322" width="5" height="9" fill="#32cd32"/>
<rect x="860" y="303" width="1" height="47" fill="#ff0000"/>
<rect x="858" y="308" width="5" height="23" fill="#ff0000"/>
<rect x="859" y="309" width="3" height="21" fill="#ff4500"/>
<rect x="868" y="308" width="1" height="30" fill="#32cd32"/>
<rect x="866" y="308" width="5" height="19" fill="#32cd32"/>
<rect x="876" y="295" width="1" height="41" fill="#ff0000"/>
<rect x="874" y="296" width="5" height="31" fill="#ff0000"/>
<rect x="875" y="297" width="3" height="29" fill="#ff4500"/>
<rect x="884" y="299" width="1" height="5" fill="#32cd32"/>
<rect x="882" y="300" width="5" height="2" fill="#32cd32"/>
<rect x="892" y="300" width="1" height="47" fill="#32cd32"/>
<rect x="890" y="301" width="5" height="36" fill="#32cd32"/>
<rect x="900" y="326" width="1" height="25" fill="#32cd32"/>
<rect x="898" y="336" width="5" height="10" fill="#32cd32"/>
<rect x="908" y="314" width="1" height="35" fill="#ff0000"/>
<rect x="906" y="331" width="5" height="15" fill="#ff0000"/>
<rect x="907" y="332" width="3" height="13" fill="#ff4500"/>
<rect x="916" y="321" width="1" height="24" fill="#32cd32"/>
<rect x="914" y="331" width="5" height="8" fill="#32cd32"/>
<rect x="3" y="22" width="1" height="380" fill="#000"/>
<rect x="1166" y="22" width="1" height="380" fill="#000"/>
<rect x="1160" y="221" width="6" height="6" fill="#ff0000"/>
<rect x="1162" y="223" width="2" height="2" fill="#fff"/>
<rect x="3" y="221" width="6" height="6" fill="#ff0000"/>
<rect x="5" y="223" width="2" height="2" fill="#fff"/>
<rect x="1160" y="284" width="6" height="6" fill="#00ff00"/>
<rect x="1162" y="286" width="2" height="2" fill="#fff"/>
<rect x="3" y="284" width="6" height="6" fill="#00ff00"/>
<rect x="5" y="286" width="2" height="2" fill="#fff"/>
<rect x="1160" y="382" width="6" height="6" fill="#0000ff"/>
<rect x="1162" y="384" width="2" height="2" fill="#fff"/>
<rect x="3" y="382" width="6" height="6" fill="#0000ff"/>
<rect x="5" y="384" width="2" height="2" fill="#fff"/>
<rect x="4" y="419" width="2" height="12" fill="#c0c0c0"/>
<rect x="11" y="419" width="3" height="9" fill="#c0c0c0"/>
<rect x="19" y="419" width="3" height="7" fill="#c0c0c0"/>
<rect x="27" y="419" width="3" height="5" fill="#c0c0c0"/>
<rect x="35" y="419" width="3" height="3" fill="#c0c0c0"/>
<rect x="43" y="418" width="3" height="1" fill="#c0c0c0"/>
<rect x="51" y="416" width="3" height="3" fill="#c0c0c0"/>
<rect x="59" y="414" width="3" height="5" fill="#c0c0c0"/>
<rect x="67" y="411" width="3" height="8" fill="#c0c0c0"/>
<rect x="75" y="408" width="3" height="11" fill="#c0c0c0"/>
<rect x="83" y="408" width="3" height="11" fill="#c0c0c0"/>
<rect x="91" y="409" width="3" height="10" fill="#c0c0c0"/>
<rect x="99" y="410" width="3" height="9" fill="#c0c0c0"/>
<rect x="107" y="411" width="3" height="8" fill="#c0c0c0"/>
<rect x="115" y="413" width="3" height="6" fill="#c0c0c0"/>
<rect x="123" y="414" width="3" height="5" fill="#c0c0c0"/>
<rect x="131" y="415" width="3" height="4" fill="#c0c0c0"/>
<rect x="139" y="416" width="3" height="3" fill="#c0c0c0"/>
<rect x="147" y="418" width="3" height="1" fill="#c0c0c0"/>
<rect x="155" y="419" width="3" height="3" fill="#c0c0c0"/>
<rect x="163" y="419" width="3" height="6" fill="#c0c0c0"/>
<rect x="171" y="419" width="3" height="8" fill="#c0c0c0"/>
<rect x="179" y="419" width="3" height="10" fill="#c0c0c0"/>
<rect x="187" y="419" width="3" height="12" fill="#c0c0c0"/>
<rect x="195" y="419" width="3" height="12" fill="#c0c0c0"/>
<rect x="203" y="419" width="3" height="13" fill="#c0c0c0"/>
<rect x="211" y="419" width="3" height="13" fill="#c0c0c0"/>
<rect x="219" y="419" width="3" height="14" fill="#c0c0c0"/>
<rect x="227" y="419" width="3" height="15" fill="#c0c0c0"/>
<rect x="235" y="419" width="3" height="19" fill="#c0c0c0"/>
<rect x="243" y="419" width="3" height="23" fill="#c0c0c0"/>
<rect x="251" y="419" width="3" height="25" fill="#c0c0c0"/>
<rect x="259" y="419" width="3" height="26" fill="#c0c0c0"/>
<rect x="267" y="419" width="3" height="26" fill="#c0c0c0"/>
<rect x="275" y="419" width="3" height="27" fill="#c0c0c0"/>
<rect x="283" y="419" width="3" height="29" fill="#c0c0c0"/>
<rect x="291" y="419" width="3" height="30" fill="#c0c0c0"/>
<rect x="299" y="419" width="3" height="29" fill="#c0c0c0"/>
<rect x="307" y="419" width="3" height="29" fill="#c0c0c0"/>
<rect x="315" y="419" width="3" height="29" fill="#c0c0c0"/>
<rect x="323" y="419" width="3" height="30" fill="#c0c0c0"/>
<rect x="331" y="419" width="3" height="28" fill="#c0c0c0"/>
<rect x="339" y="419" width="3" height="26" fill="#c0c0c0"/>
<rect x="347" y="419" width="3" height="23" fill="#c0c0c0"/>
<rect x="355" y="419" width="3" height="21" fill="#c0c0c0"/>
<rect x="363" y="419" width="3" height="19" fill="#c0c0c0"/>
<rect x="371" y="419" width="3" height="16" fill="#c0c0c0"/>
<rect x="379" y="419" width="3" height="13" fill="#c0c0c0"/>
<rect x="387" y="419" width="3" height="12" fill="#c0c0c0"/>
<rect x="395" y="419" width="3" height="10" fill="#c0c0c0"/>
<rect x="403" y="419" width="3" height="8" fill="#c0c0c0"/>
<rect x="411" y="419" width="3" height="8" fill="#c0c0c0"/>
<rect x="419" y="419" width="3" height="9" fill="#c0c0c0"/>
<rect x="427" y="419" width="3" height="9" fill="#c0c0c0"/>
<rect x="435" y="419" width="3" height="5" fill="#c0c0c0"/>
<rect x="443" y="419" width="3" height="8" fill="#c0c0c0"/>
<rect x="451" y="419" width="3" height="8" fill="#c0c0c0"/>
<rect x="459" y="419" width="3" height="8" fill="#c0c0c0"/>
<rect x="467" y="419" width="3" height="9" fill="#c0c0c0"/>
<rect x="475" y="419" width="3" height="8" fill="#c0c0c0"/>
<rect x="483" y="419" width="3" height="10" fill="#c0c0c0"/>
<rect x="491" y="419" width="3" height="11" fill="#c0c0c0"/>
<rect x="499" y="419" width="3" height="11" fill="#c0c0c0"/>
<rect x="507" y="419" width="3" height="10" fill="#c0c0c0"/>
<rect x="515" y="419" width="3" height="10" fill="#c0c0c0"/>
<rect x="523" y="419" width="3" height="12" fill="#c0c0c0"/>
<rect x="531" y="419" width="3" height="17" fill="#c0c0c0"/>
<rect x="539" y="419" width="3" height="20" fill="#c0c0c0"/>
<rect x="547" y="419" width="3" height="22" fill="#c0c0c0"/>
<rect x="555" y="419" width="3" height="27" fill="#c0c0c0"/>
<rect x="563" y="419" width="3" height="32" fill="#c0c0c0"/>
<rect x="571" y="419" width="3" height="36" fill="#c0c0c0"/>
<rect x="579" y="419" width="3" height="36" fill="#c0c0c0"/>
<rect x="587" y="419" width="3" height="40" fill="#c0c0c0"/>
<rect x="595" y="419" width="3" height="42" fill="#c0c0c0"/>
<rect x="603" y="419" width="3" height="45" fill="#c0c0c0"/>
<rect x="611" y="419" width="3" height="47" fill="#c0c0c0"/>
<rect x="619" y="419" width="3" height="49" fill="#c0c0c0"/>
<rect x="627" y="419" width="3" height="50" fill="#c0c0c0"/>
<rect x="635" y="419" width="3" height="47" fill="#c0c0c0"/>
<rect x="643" y="419" width="3" height="44" fill="#c0c0c0"/>
<rect x="651" y="419" width="3" height="41" fill="#c0c0c0"/>
<rect x="659" y="419" width="3" height="37" fill="#c0c0c0"/>
<rect x="667" y="419" width="3" height="34" fill="#c0c0c0"/>
<rect x="675" y="419" width="3" height="32" fill="#c0c0c0"/>
<rect x="683" y="419" width="3" height="30" fill="#c0c0c0"/>
<rect x="691" y="419" width="3" height="28" fill="#c0c0c0"/>
<rect x="699" y="419" width="3" height="27" fill="#c0c0c0"/>
<rect x="707" y="419" width="3" height="26" fill="#c0c0c0"/>
<rect x="715" y="419" width="3" height="23" fill="#c0c0c0"/>
<rect x="723" y="419" width="3" height="22" fill="#c0c0c0"/>
<rect x="731" y="419" width="3" height="20" fill="#c0c0c0"/>
<rect x="739" y="419" width="3" height="18" fill="#c0c0c0"/>
<rect x="747" y="419" width="3" height="18" fill="#c0c0c0"/>
<rect x="755" y="419" width="3" height="18" fill="#c0c0c0"/>
<rect x="763" y="419" width="3" height="17" fill="#c0c0c0"/>
<rect x="771" y="419" width="3" height="15" fill="#c0c0c0"/>
<rect x="779" y="419" width="3" height="16" fill="#c0c0c0"/>
<rect x="787" y="419" width="3" height="17" fill="#c0c0c0"/>
<rect x="795" y="419" width="3" height="16" fill="#c0c0c0"/>
<rect x="803" y="419" width="3" height="15" fill="#c0c0c0"/>
<rect x="811" y="419" width="3" height="12" fill="#c0c0c0"/>
<rect x="819" y="419" width="3" height="10" fill="#c0c0c0"/>
<rect x="827" y="419" width="3" height="9" fill="#c0c0c0"/>
<rect x="835" y="419" width="3" height="7" fill="#c0c0c0"/>
<rect x="843" y="419" width="3" height="6" fill="#c0c0c0"/>
<rect x="851" y="419" width="3" height="5" fill="#c0c0c0"/>
<rect x="859" y="419" width="3" height="3" fill="#c0c0c0"/>
<rect x="867" y="419" width="3" height="2" fill="#c0c0c0"/>
<rect x="875" y="418" width="3" height="1" fill="#c0c0c0"/>
<rect x="883" y="416" width="3" height="3" fill="#c0c0c0"/>
<rect x="891" y="417" width="3" height="2" fill="#c0c0c0"/>
<rect x="899" y="419" width="3" height="1" fill="#c0c0c0"/>
<rect x="907" y="419" width="3" height="2" fill="#c0c0c0"/>
<rect x="915" y="419" width="3" height="3" fill="#c0c0c0"/>
<path d="M108 410h26v1h-26zM98 411h10v1h-10zM134 411h8v1h-8zM93 412h5v1h-5zM142 412h5v1h-5zM89 413h4v1h-4zM147 413h4v1h-4zM85 414h4v1h-4zM151 414h4v1h-4zM82 415h3v1h-3zM155 415h4v1h-4zM79 416h3v1h-3zM159 416h4v1h-4zM77 417h2v1h-2zM163 417h5v1h-5zM74 418h3v1h-3zM168 418h5v1h-5zM72 419h2v1h-2zM173 419h5v1h-5zM70 420h2v1h-2zM178 420h5v1h-5zM900 420h17v1h-17zM67 421h3v1h-3zM183 421h5v1h-5zM890 421h10v1h-10zM64 422h3v1h-3zM188 422h4v1h-4zM883 422h7v1h-7zM60 423h4v1h-4zM192 423h4v1h-4zM878 423h5v1h-5zM57 424h3v1h-3zM196 424h4v1h-4zM873 424h5v1h-5zM54 425h3v1h-3zM200 425h4v1h-4zM868 425h5v1h-5zM50 426h4v1h-4zM204 426h5v1h-5zM463 426h25v1h-25zM863 426h5v1h-5zM46 427h4v1h-4zM209 427h8v1h-8zM440 427h23v1h-23zM488 427h25v1h-25zM858 427h5v1h-5zM42 428h4v1h-4zM217 428h6v1h-6zM436 428h4v1h-4zM513 428h20v1h-20zM853 428h5v1h-5zM38 429h4v1h-4zM223 429h5v1h-5zM432 429h4v1h-4zM533 429h5v1h-5zM848 429h5v1h-5zM34 430h4v1h-4zM228 430h5v1h-5zM428 430h4v1h-4zM538 430h5v1h-5zM838 430h10v1h-10zM28 431h6v1h-6zM233 431h5v1h-5zM423 431h5v1h-5zM543 431h5v1h-5zM827 431h11v1h-11zM23 432h5v1h-5zM238 432h5v1h-5zM418 432h5v1h-5zM548 432h4v1h-4zM819 432h8v1h-8zM16 433h7v1h-7zM243 433h5v1h-5zM414 433h4v1h-4zM552 433h2v1h-2zM812 433h7v1h-7zM8 434h8v1h-8zM248 434h5v1h-5zM410 434h4v1h-4zM554 434h3v1h-3zM804 434h8v1h-8zM4 435h4v1h-4zM253 435h5v1h-5zM406 435h4v1h-4zM557 435h2v1h-2zM793 435h11v1h-11zM258 436h5v1h-5zM402 436h4v1h-4zM559 436h3v1h-3zM782 436h11v1h-11zM263 437h5v1h-5zM398 437h4v1h-4zM562 437h3v1h-3zM774 437h8v1h-8zM268 438h5v1h-5zM393 438h5v1h-5zM565 438h4v1h-4zM767 438h7v1h-7zM273 439h4v1h-4zM388 439h5v1h-5zM569 439h4v1h-4zM759 439h8v1h-8zM277 440h4v1h-4zM383 440h5v1h-5zM573 440h5v1h-5zM753 440h6v1h-6zM281 441h4v1h-4zM378 441h5v1h-5zM578 441h3v1h-3zM748 441h5v1h-5zM285 442h4v1h-4zM373 442h5v1h-5zM581 442h2v1h-2zM743 442h5v1h-5zM289 443h5v1h-5zM367 443h6v1h-6zM583 443h2v1h-2zM739 443h4v1h-4zM294 444h8v1h-8zM359 444h8v1h-8zM585 444h2v1h-2zM735 444h4v1h-4zM302 445h8v1h-8zM352 445h7v1h-7zM587 445h2v1h-2zM731 445h4v1h-4zM310 446h13v1h-13zM346 446h6v1h-6zM589 446h3v1h-3zM727 446h4v1h-4zM323 447h23v1h-23zM592 447h3v1h-3zM724 447h3v1h-3zM595 448h4v1h-4zM720 448h4v1h-4zM599 449h3v1h-3zM716 449h4v1h-4zM602 450h2v1h-2zM712 450h4v1h-4zM604 451h3v1h-3zM709 451h3v1h-3zM607 452h2v1h-2zM705 452h4v1h-4zM609 453h3v1h-3zM702 453h3v1h-3zM612 454h2v1h-2zM699 454h3v1h-3zM614 455h3v1h-3zM696 455h3v1h-3zM617 456h2v1h-2zM693 456h3v1h-3zM619 457h3v1h-3zM690 457h3v1h-3zM622 458h2v1h-2zM687 458h3v1h-3zM624 459h3v1h-3zM683 459h4v1h-4zM627 460h2v1h-2zM678 460h5v1h-5zM629 461h4v1h-4zM673 461h5v1h-5zM633 462h5v1h-5zM666 462h7v1h-7zM638 463h28v1h-28z" fill="#ff0000"/>
<line x1="5" x2="1166" y1="496.5" y2="496.5" stroke="#c0c0c0" stroke-width="1" stroke-dasharray="3 3"/>
<line x1="5" x2="1166" y1="524.5" y2="524.5" stroke="#c0c0c0" stroke-width="1" stroke-dasharray="3 3"/>
<path d="M61 498h5v1h-5zM57 499h4v1h-4zM66 499h4v1h-4zM54 500h3v1h-3zM70 500h4v1h-4zM51 501h3v1h-3zM74 501h3v1h-3zM48 502h3v1h-3zM77 502h2v1h-2zM46 503h2v1h-2zM79 503h2v1h-2zM43 504h3v1h-3zM81 504h2v1h-2zM39 505h4v1h-4zM83 505h1v1h-1zM436 505h1v1h-1zM876 505h4v1h-4zM34 506h5v1h-5zM84 506h2v1h-2zM435 506h1v1h-1zM437 506h1v1h-1zM860 506h1v1h-1zM874 506h2v1h-2zM880 506h5v1h-5zM17 507h17v1h-17zM86 507h2v1h-2zM434 507h1v1h-1zM437 507h1v1h-1zM858 507h2v1h-2zM861 507h2v1h-2zM872 507h2v1h-2zM885 507h1v1h-1zM14 508h3v1h-3zM88 508h3v1h-3zM379 508h2v1h-2zM434 508h1v1h-1zM438 508h1v1h-1zM856 508h2v1h-2zM863 508h2v1h-2zM871 508h1v1h-1zM886 508h1v1h-1zM11 509h3v1h-3zM91 509h14v1h-14zM139 509h2v1h-2zM376 509h3v1h-3zM381 509h2v1h-2zM433 509h1v1h-1zM439 509h1v1h-1zM811 509h5v1h-5zM840 509h6v1h-6zM855 509h1v1h-1zM865 509h2v1h-2zM869 509h2v1h-2zM887 509h1v1h-1zM8 510h3v1h-3zM105 510h17v1h-17zM136 510h3v1h-3zM141 510h1v1h-1zM374 510h2v1h-2zM383 510h2v1h-2zM394 510h11v1h-11zM432 510h1v1h-1zM439 510h1v1h-1zM771 510h2v1h-2zM809 510h2v1h-2zM816 510h8v1h-8zM832 510h8v1h-8zM846 510h4v1h-4zM853 510h2v1h-2zM867 510h2v1h-2zM888 510h2v1h-2zM6 511h2v1h-2zM122 511h6v1h-6zM134 511h2v1h-2zM142 511h1v1h-1zM370 511h4v1h-4zM385 511h2v1h-2zM390 511h4v1h-4zM405 511h2v1h-2zM431 511h1v1h-1zM440 511h1v1h-1zM475 511h2v1h-2zM512 511h5v1h-5zM716 511h1v1h-1zM769 511h2v1h-2zM773 511h1v1h-1zM807 511h2v1h-2zM824 511h8v1h-8zM850 511h3v1h-3zM890 511h1v1h-1zM4 512h2v1h-2zM128 512h6v1h-6zM143 512h1v1h-1zM366 512h4v1h-4zM387 512h3v1h-3zM407 512h2v1h-2zM430 512h1v1h-1zM441 512h1v1h-1zM460 512h2v1h-2zM472 512h3v1h-3zM477 512h2v1h-2zM506 512h6v1h-6zM517 512h1v1h-1zM715 512h1v1h-1zM717 512h2v1h-2zM767 512h2v1h-2zM774 512h1v1h-1zM805 512h2v1h-2zM891 512h1v1h-1zM906 512h6v1h-6zM144 513h1v1h-1zM363 513h3v1h-3zM409 513h2v1h-2zM430 513h1v1h-1zM441 513h1v1h-1zM458 513h2v1h-2zM462 513h4v1h-4zM470 513h2v1h-2zM479 513h2v1h-2zM502 513h4v1h-4zM518 513h1v1h-1zM714 513h1v1h-1zM719 513h2v1h-2zM765 513h2v1h-2zM775 513h1v1h-1zM802 513h3v1h-3zM892 513h4v1h-4zM902 513h4v1h-4zM912 513h5v1h-5zM145 514h1v1h-1zM360 514h3v1h-3zM411 514h5v1h-5zM429 514h1v1h-1zM442 514h1v1h-1zM456 514h2v1h-2zM466 514h4v1h-4zM481 514h2v1h-2zM498 514h4v1h-4zM519 514h1v1h-1zM713 514h1v1h-1zM721 514h2v1h-2zM728 514h14v1h-14zM763 514h2v1h-2zM776 514h2v1h-2zM798 514h4v1h-4zM896 514h6v1h-6zM146 515h1v1h-1zM196 515h2v1h-2zM346 515h6v1h-6zM358 515h2v1h-2zM416 515h13v1h-13zM443 515h1v1h-1zM455 515h1v1h-1zM483 515h5v1h-5zM494 515h4v1h-4zM520 515h1v1h-1zM659 515h5v1h-5zM712 515h1v1h-1zM723 515h5v1h-5zM742 515h4v1h-4zM761 515h2v1h-2zM778 515h1v1h-1zM794 515h4v1h-4zM147 516h1v1h-1zM195 516h1v1h-1zM198 516h2v1h-2zM332 516h4v1h-4zM342 516h4v1h-4zM352 516h6v1h-6zM443 516h1v1h-1zM453 516h2v1h-2zM488 516h6v1h-6zM520 516h1v1h-1zM657 516h2v1h-2zM664 516h8v1h-8zM680 516h8v1h-8zM711 516h1v1h-1zM746 516h4v1h-4zM759 516h2v1h-2zM779 516h1v1h-1zM790 516h4v1h-4zM148 517h2v1h-2zM194 517h1v1h-1zM200 517h3v1h-3zM208 517h6v1h-6zM331 517h1v1h-1zM336 517h6v1h-6zM444 517h9v1h-9zM521 517h1v1h-1zM636 517h2v1h-2zM655 517h2v1h-2zM672 517h8v1h-8zM688 517h8v1h-8zM710 517h1v1h-1zM750 517h4v1h-4zM757 517h2v1h-2zM780 517h10v1h-10zM150 518h2v1h-2zM194 518h1v1h-1zM203 518h5v1h-5zM214 518h2v1h-2zM330 518h1v1h-1zM522 518h1v1h-1zM635 518h1v1h-1zM638 518h4v1h-4zM653 518h2v1h-2zM696 518h8v1h-8zM709 518h1v1h-1zM754 518h3v1h-3zM152 519h3v1h-3zM193 519h1v1h-1zM216 519h3v1h-3zM330 519h1v1h-1zM523 519h1v1h-1zM635 519h1v1h-1zM642 519h11v1h-11zM704 519h5v1h-5zM155 520h15v1h-15zM192 520h1v1h-1zM219 520h3v1h-3zM329 520h1v1h-1zM524 520h2v1h-2zM634 520h1v1h-1zM170 521h11v1h-11zM191 521h1v1h-1zM222 521h4v1h-4zM328 521h1v1h-1zM526 521h4v1h-4zM633 521h1v1h-1zM181 522h2v1h-2zM190 522h1v1h-1zM226 522h3v1h-3zM264 522h6v1h-6zM327 522h1v1h-1zM530 522h19v1h-19zM580 522h1v1h-1zM632 522h1v1h-1zM183 523h2v1h-2zM190 523h1v1h-1zM229 523h2v1h-2zM258 523h6v1h-6zM270 523h4v1h-4zM298 523h14v1h-14zM326 523h1v1h-1zM549 523h2v1h-2zM578 523h2v1h-2zM581 523h2v1h-2zM632 523h1v1h-1zM185 524h2v1h-2zM189 524h1v1h-1zM231 524h1v1h-1zM254 524h4v1h-4zM274 524h4v1h-4zM294 524h4v1h-4zM312 524h6v1h-6zM326 524h1v1h-1zM551 524h2v1h-2zM577 524h1v1h-1zM583 524h2v1h-2zM631 524h1v1h-1zM187 525h2v1h-2zM232 525h2v1h-2zM251 525h3v1h-3zM278 525h4v1h-4zM288 525h6v1h-6zM318 525h4v1h-4zM325 525h1v1h-1zM553 525h2v1h-2zM576 525h1v1h-1zM585 525h2v1h-2zM630 525h1v1h-1zM234 526h2v1h-2zM248 526h3v1h-3zM282 526h6v1h-6zM322 526h3v1h-3zM555 526h3v1h-3zM574 526h2v1h-2zM587 526h11v1h-11zM629 526h1v1h-1zM236 527h4v1h-4zM246 527h2v1h-2zM558 527h4v1h-4zM573 527h1v1h-1zM598 527h4v1h-4zM629 527h1v1h-1zM240 528h6v1h-6zM562 528h11v1h-11zM602 528h14v1h-14zM624 528h5v1h-5zM616 529h8v1h-8z" fill="#1e90ff"/>
</g>
<g shape-rendering="crispEdges">
<rect x="1167" y="35" width="2" height="1" fill="#000"/>
<text x="1172.5" y="39" font-size="9" fill="#000" textLength="32" lengthAdjust="spacingAndGlyphs">1.19210</text>
<rect x="1167" y="68" width="2" height="1" fill="#000"/>
<text x="1172.5" y="72" font-size="9" fill="#000" textLength="32" lengthAdjust="spacingAndGlyphs">1.18530</text>
<rect x="1167" y="101" width="2" height="1" fill="#000"/>
<text x="1172.5" y="105" font-size="9" fill="#000" textLength="32" lengthAdjust="spacingAndGlyphs">1.17850</text>
<rect x="1167" y="134" width="2" height="1" fill="#000"/>
<text x="1172.5" y="138" font-size="9" fill="#000" textLength="32" lengthAdjust="spacingAndGlyphs">1.17170</text>
<rect x="1167" y="167" width="2" height="1" fill="#000"/>
<text x="1172.5" y="171" font-size="9" fill="#000" textLength="32" lengthAdjust="spacingAndGlyphs">1.16490</text>
<rect x="1167" y="200" width="2" height="1" fill="#000"/>
<text x="1172.5" y="204" font-size="9" fill="#000" textLength="32" lengthAdjust="spacingAndGlyphs">1.15810</text>
<rect x="1167" y="233" width="2" height="1" fill="#000"/>
<text x="1172.5" y="237" font-size="9" fill="#000" textLength="32" lengthAdjust="spacingAndGlyphs">1.15130</text>
<rect x="1167" y="266" width="2" height="1" fill="#000"/>
<text x="1172.5" y="270" font-size="9" fill="#000" textLength="32" lengthAdjust="spacingAndGlyphs">1.14450</text>
<rect x="1167" y="299" width="2" height="1" fill="#000"/>
<text x="1172.5" y="303" font-size="9" fill="#000" textLength="32" lengthAdjust="spacingAndGlyphs">1.13770</text>
<rect x="1167" y="332" width="2" height="1" fill="#000"/>
<text x="1172.5" y="336" font-size="9" fill="#000" textLength="32" lengthAdjust="spacingAndGlyphs">1.13090</text>
<rect x="1167" y="365" width="2" height="1" fill="#000"/>
<text x="1172.5" y="369" font-size="9" fill="#000" textLength="32" lengthAdjust="spacingAndGlyphs">1.12410</text>
<rect x="1167" y="398" width="2" height="1" fill="#000"/>
<text x="1172.5" y="402" font-size="9" fill="#000" textLength="32" lengthAdjust="spacingAndGlyphs">1.11730</text>
<rect x="1167" y="405" width="1" height="1" fill="#000"/>
<text x="1170" y="413.7" font-size="9" fill="#000" textLength="37.6" lengthAdjust="spacingAndGlyphs">0.002966</text>
<rect x="1167" y="419" width="2" height="1" fill="#000"/>
<text x="1170" y="422.6" font-size="9" fill="#000" textLength="17.5" lengthAdjust="spacingAndGlyphs">0.00</text>
<rect x="1167" y="471" width="1" height="1" fill="#000"/>
<text x="1170" y="469" font-size="9" fill="#000" textLength="40.5" lengthAdjust="spacingAndGlyphs">-0.010422</text>
<rect x="1167" y="476" width="1" height="1" fill="#000"/>
<text x="1170" y="484.7" font-size="9" fill="#000" textLength="15" lengthAdjust="spacingAndGlyphs">100</text>
<text x="1170" y="500" font-size="9" fill="#000" textLength="10" lengthAdjust="spacingAndGlyphs">70</text>
<text x="1170" y="528" font-size="9" fill="#000" textLength="10" lengthAdjust="spacingAndGlyphs">30</text>
<rect x="1167" y="545" width="1" height="1" fill="#000"/>
<text x="1170" y="542.8" font-size="9" fill="#000" textLength="5.1" lengthAdjust="spacingAndGlyphs">0</text>
<rect x="1168" y="136" width="39" height="11" fill="#ff0000"/>
<text x="1172.5" y="145" font-size="9" fill="#fff" textLength="32" lengthAdjust="spacingAndGlyphs">1.17001</text>
<rect x="1168" y="218" width="39" height="11" fill="#ff0000"/>
<text x="1172.5" y="227" font-size="9" fill="#fff" textLength="32" lengthAdjust="spacingAndGlyphs">1.15313</text>
<rect x="1168" y="281" width="39" height="11" fill="#00ff00"/>
<text x="1172.5" y="290" font-size="9" fill="#fff" textLength="32" lengthAdjust="spacingAndGlyphs">1.14016</text>
<rect x="1168" y="333" width="39" height="11" fill="#000000"/>
<text x="1172.5" y="342" font-size="9" fill="#fff" textLength="32" lengthAdjust="spacingAndGlyphs">1.12960</text>
<rect x="1168" y="379" width="39" height="11" fill="#0000ff"/>
<text x="1172.5" y="388" font-size="9" fill="#fff" textLength="32" lengthAdjust="spacingAndGlyphs">1.11999</text>
<rect x="4" y="547" width="1" height="3" fill="#000"/>
<text x="3" y="559" font-size="9" fill="#000" textLength="51.7" lengthAdjust="spacingAndGlyphs">26 Aug 2021</text>
<rect x="68" y="547" width="1" height="3" fill="#000"/>
<text x="67" y="559" font-size="9" fill="#000" textLength="45.7" lengthAdjust="spacingAndGlyphs">5 Sep 2021</text>
<rect x="132" y="547" width="1" height="3" fill="#000"/>
<text x="131" y="559" font-size="9" fill="#000" textLength="50.7" lengthAdjust="spacingAndGlyphs">14 Sep 2021</text>
<rect x="196" y="547" width="1" height="3" fill="#000"/>
<text x="195" y="559" font-size="9" fill="#000" textLength="50.9" lengthAdjust="spacingAndGlyphs">23 Sep 2021</text>
<rect x="260" y="547" width="1" height="3" fill="#000"/>
<text x="259" y="559" font-size="9" fill="#000" textLength="44.5" lengthAdjust="spacingAndGlyphs">3 Oct 2021</text>
<rect x="324" y="547" width="1" height="3" fill="#000"/>
<text x="323" y="559" font-size="9" fill="#000" textLength="48.9" lengthAdjust="spacingAndGlyphs">12 Oct 2021</text>
<rect x="388" y="547" width="1" height="3" fill="#000"/>
<text x="387" y="559" font-size="9" fill="#000" textLength="49.7" lengthAdjust="spacingAndGlyphs">21 Oct 2021</text>
<rect x="452" y="547" width="1" height="3" fill="#000"/>
<text x="451" y="559" font-size="9" fill="#000" textLength="49.5" lengthAdjust="spacingAndGlyphs">31 Oct 2021</text>
<rect x="516" y="547" width="1" height="3" fill="#000"/>
<text x="515" y="559" font-size="9" fill="#000" textLength="48.7" lengthAdjust="spacingAndGlyphs">9 Nov 2021</text>
<rect x="580" y="547" width="1" height="3" fill="#000"/>
<text x="579" y="559" font-size="9" fill="#000" textLength="53.9" lengthAdjust="spacingAndGlyphs">18 Nov 2021</text>
<rect x="644" y="547" width="1" height="3" fill="#000"/>
<text x="643" y="559" font-size="9" fill="#000" textLength="53.0" lengthAdjust="spacingAndGlyphs">28 Nov 2021</text>
<rect x="708" y="547" width="1" height="3" fill="#000"/>
<text x="707" y="559" font-size="9" fill="#000" textLength="46.1" lengthAdjust="spacingAndGlyphs">7 Dec 2021</text>
<rect x="772" y="547" width="1" height="3" fill="#000"/>
<text x="771" y="559" font-size="9" fill="#000" textLength="51.7" lengthAdjust="spacingAndGlyphs">16 Dec 2021</text>
<rect x="836" y="547" width="1" height="3" fill="#000"/>
<text x="835" y="559" font-size="9" fill="#000" textLength="51.7" lengthAdjust="spacingAndGlyphs">26 Dec 2021</text>
<rect x="900" y="547" width="1" height="3" fill="#000"/>
<text x="899" y="559" font-size="9" fill="#000" textLength="44.4" lengthAdjust="spacingAndGlyphs">4 Jan 2022</text>
<rect x="7" y="29" width="7" height="1" fill="#000"/>
<rect x="8" y="30" width="5" height="1" fill="#000"/>
<rect x="9" y="31" width="3" height="1" fill="#000"/>
<rect x="10" y="32" width="1" height="1" fill="#000"/>
<text x="19.3" y="34" font-size="9" fill="#000" textLength="66.6" lengthAdjust="spacingAndGlyphs">EURUSD-,Daily</text>
<text x="92.4" y="34" font-size="9" fill="#000" textLength="32" lengthAdjust="spacingAndGlyphs">1.13099</text>
<text x="128.4" y="34" font-size="9" fill="#000" textLength="32" lengthAdjust="spacingAndGlyphs">1.13309</text>
<text x="164.7" y="34" font-size="9" fill="#000" textLength="32" lengthAdjust="spacingAndGlyphs">1.12837</text>
<text x="200.6" y="34" font-size="9" fill="#000" textLength="32" lengthAdjust="spacingAndGlyphs">1.12960</text>
<text x="8.6" y="415.5" font-size="9" fill="#000" textLength="64.7" lengthAdjust="spacingAndGlyphs">MACD(12,26,9)</text>
<text x="77.9" y="415.5" font-size="9" fill="#000" textLength="39.4" lengthAdjust="spacingAndGlyphs">-0.000281</text>
<text x="121.7" y="415.5" font-size="9" fill="#000" textLength="39.7" lengthAdjust="spacingAndGlyphs">-0.000028</text>
<text x="8.3" y="487" font-size="9" fill="#000" textLength="67" lengthAdjust="spacingAndGlyphs">RSI(14) 46.8948</text>
</g>
</svg>
<div id="tabs"><div class="l1"></div><div class="l2"></div><div class="hl"></div><div class="bg"></div><div class="le"></div><div class="hlv"></div><div class="act"></div><div class="acttop"></div><div class="t1r"></div><i style="left:321px"></i><i style="left:417px"></i><i style="left:525px"></i><i style="left:637px"></i><i style="left:733px"></i><i style="left:825px"></i><i style="left:913px"></i><i style="left:997px"></i>
</div>
<svg width="1207" height="589" viewBox="0 0 1207 589" style="position:absolute;left:0;top:0">
<g font-family="DejaVu Sans Condensed, Liberation Sans, sans-serif">
<text x="0.4" y="10" font-size="9" fill="#3a3a3a" textLength="4.6" lengthAdjust="spacingAndGlyphs">5</text>
<text x="15.7" y="10" font-size="9" fill="#3a3a3a" textLength="17.5" lengthAdjust="spacingAndGlyphs">M30</text>
<text x="46.8" y="10" font-size="9" fill="#3a3a3a" textLength="11.2" lengthAdjust="spacingAndGlyphs">H1</text>
<text x="73.6" y="10" font-size="9" fill="#3a3a3a" textLength="12.1" lengthAdjust="spacingAndGlyphs">H4</text>
<text x="102.8" y="10" font-size="9" fill="#3a3a3a" textLength="11.2" lengthAdjust="spacingAndGlyphs">D1</text>
<text x="130.2" y="10" font-size="9" fill="#3a3a3a" textLength="14.1" lengthAdjust="spacingAndGlyphs">W1</text>
<text x="157.0" y="10" font-size="9" fill="#3a3a3a" textLength="14.2" lengthAdjust="spacingAndGlyphs">MN</text>
</g>
<g font-family="Liberation Sans, Arial, sans-serif">
<text x="16.7" y="584" font-size="11.5" fill="#6d6d6d" textLength="77.3" lengthAdjust="spacingAndGlyphs">USDX,Weekly</text>
<text x="116.9" y="584" font-size="11.5" fill="#000" textLength="83.8" lengthAdjust="spacingAndGlyphs">EURUSD-,Daily</text>
<text x="222.9" y="584" font-size="11.5" fill="#6d6d6d" textLength="86.5" lengthAdjust="spacingAndGlyphs">AUDUSD-,Daily</text>
<text x="333.5" y="584" font-size="11.5" fill="#6d6d6d" textLength="71.5" lengthAdjust="spacingAndGlyphs">USDCHF-,H4</text>
<text x="428.4" y="584" font-size="11.5" fill="#6d6d6d" textLength="85.4" lengthAdjust="spacingAndGlyphs">USDCAD-,Daily</text>
<text x="537.2" y="584" font-size="11.5" fill="#6d6d6d" textLength="87.8" lengthAdjust="spacingAndGlyphs">USDCNH-,Daily</text>
<text x="648.0" y="584" font-size="11.5" fill="#6d6d6d" textLength="73.4" lengthAdjust="spacingAndGlyphs">XAUUSD-,H1</text>
<text x="744.3" y="584" font-size="11.5" fill="#6d6d6d" textLength="68.3" lengthAdjust="spacingAndGlyphs">UKOil-,Daily</text>
<text x="837.5" y="584" font-size="11.5" fill="#6d6d6d" textLength="63.4" lengthAdjust="spacingAndGlyphs">DJ30-,Daily</text>
<text x="924.2" y="584" font-size="11.5" fill="#6d6d6d" textLength="61.4" lengthAdjust="spacingAndGlyphs">UK100-,H1</text>
</g>
<g shape-rendering="crispEdges">
<rect x="1185" y="575" width="1" height="1" fill="#a0a0a0"/>
<rect x="1201" y="575" width="1" height="1" fill="#a0a0a0"/>
<rect x="1184" y="576" width="2" height="1" fill="#a0a0a0"/>
<rect x="1201" y="576" width="2" height="1" fill="#a0a0a0"/>
<rect x="1183" y="577" width="3" height="1" fill="#a0a0a0"/>
<rect x="1201" y="577" width="3" height="1" fill="#a0a0a0"/>
<rect x="1182" y="578" width="4" height="1" fill="#a0a0a0"/>
<rect x="1201" y="578" width="4" height="1" fill="#a0a0a0"/>
<rect x="1183" y="579" width="3" height="1" fill="#a0a0a0"/>
<rect x="1201" y="579" width="3" height="1" fill="#a0a0a0"/>
<rect x="1184" y="580" width="2" height="1" fill="#a0a0a0"/>
<rect x="1201" y="580" width="2" height="1" fill="#a0a0a0"/>
<rect x="1185" y="581" width="1" height="1" fill="#a0a0a0"/>
<rect x="1201" y="581" width="1" height="1" fill="#a0a0a0"/>
</g>
</svg>
</body></html>
